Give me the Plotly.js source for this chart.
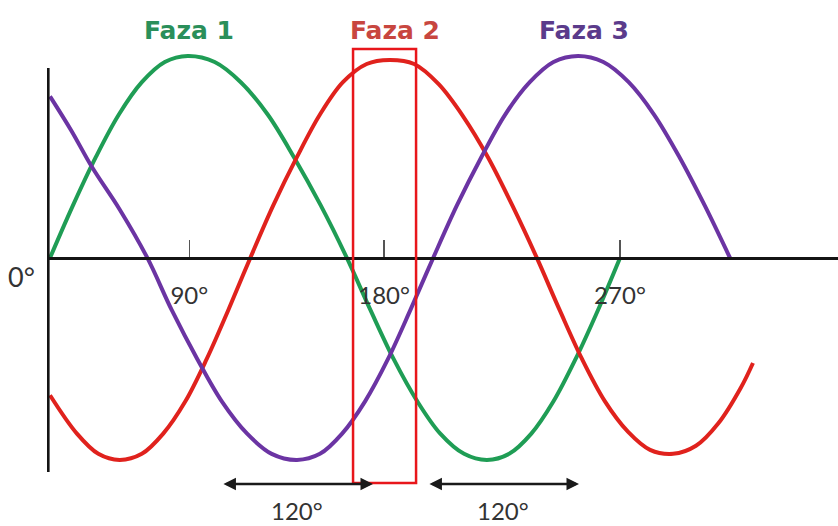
<!DOCTYPE html>
<html>
<head>
<meta charset="utf-8">
<script src="https://cdn.plot.ly/plotly-3.0.1.min.js"></script>
<style>
  html, body { margin: 0; padding: 0; background: #fff; }
  #plotFaze { width: 838px; height: 526px; }
</style>
</head>
<body>
<div id="plotFaze"></div>
<script>
// faza 1 (green)
faza1X = [0, 14.5, 29, 43.5, 58, 72.5, 87, 104, 120.5, 137.5, 154, 171, 187.5, 202.5, 217, 232, 246.5, 261.5, 276, 290, 304, 318, 332, 346, 360];
faza1Y = [0, 0.26, 0.5, 0.71, 0.87, 0.97, 1, 0.97, 0.87, 0.71, 0.5, 0.26, 0, -0.26, -0.5, -0.71, -0.87, -0.97, -1, -0.97, -0.87, -0.71, -0.5, -0.26, 0];

// faza 2 (red)
faza2X = [0, 17, 30.5, 44, 58, 71.5, 85.5, 99, 112.5, 126.5, 141, 156, 170.5, 185, 200, 214.5, 230, 245.5, 261, 276.5, 292, 307.5, 322, 336, 350.5, 365, 379, 393.5, 408, 422, 436.5, 444];
faza2Y = [-0.68, -0.87, -0.97, -1, -0.97, -0.87, -0.71, -0.5, -0.26, 0, 0.26, 0.5, 0.71, 0.87, 0.96, 0.98, 0.96, 0.86, 0.7, 0.5, 0.26, 0, -0.26, -0.5, -0.71, -0.86, -0.95, -0.97, -0.93, -0.82, -0.64, -0.52];

// faza 3 (purple)
faza3X = [0, 13.5, 26.5, 44, 61.5, 77, 93, 108.5, 124.5, 140, 156, 170.5, 184.5, 199, 213.5, 227.5, 242, 257, 272.5, 287.5, 303, 318, 333.5, 349.5, 365.5, 381.5, 397.5, 413.5, 429.5];
faza3Y = [0.8, 0.63, 0.45, 0.24, 0, -0.26, -0.5, -0.71, -0.87, -0.97, -1, -0.97, -0.87, -0.71, -0.5, -0.26, 0, 0.26, 0.5, 0.71, 0.87, 0.97, 1, 0.97, 0.87, 0.71, 0.5, 0.26, 0];

tickVals = [88, 211, 360];
tickText = ["90°", "180°", "270°"];

phaseNames = ["Faza 1", "Faza 2", "Faza 3"];
phaseLabelX = [88, 218, 337];

shiftStart = [108.6, 238.7];
shiftEnd = [204, 334.1];
shiftText = ["120°", "120°"];

lineColors = ["#1f9d55", "#e0221d", "#6b34a3"];
titleColors = ["#2a8f5a", "#c8463f", "#5b3b8b"];

traces = [
    {x: faza1X, y: faza1Y, mode: "lines", type: "scatter", line: {color: lineColors[0], width: 4, shape: "spline"}},
    {x: faza2X, y: faza2Y, mode: "lines", type: "scatter", line: {color: lineColors[1], width: 4, shape: "spline"}},
    {x: faza3X, y: faza3Y, mode: "lines", type: "scatter", line: {color: lineColors[2], width: 4, shape: "spline"}}
];

// plot area: 47..838 px wide, 40..490 px high
annotations = [];
phaseNames.forEach(function (name, i) {
    annotations.push({
        x: phaseLabelX[i], y: 1.022, xref: "x", yref: "paper", xanchor: "center", yanchor: "middle",
        text: "<b>" + name + "</b>", showarrow: false,
        font: {family: "DejaVu Sans", size: 25, color: titleColors[i]}
    });
});
annotations.push({
    x: -0.032, y: 0.475, xref: "paper", yref: "paper", xanchor: "center", yanchor: "middle",
    text: "0°", showarrow: false,
    font: {family: "Lato", size: 27, color: "#333"}
});
shiftText.forEach(function (t, i) {
    annotations.push({
        x: shiftEnd[i], y: -1.119, ax: shiftStart[i], ay: -1.119, axref: "x", ayref: "y",
        xref: "x", yref: "y", text: "", showarrow: true, arrowside: "end+start",
        arrowhead: 2, arrowsize: 1, arrowwidth: 2.5, arrowcolor: "#1a1a1a", standoff: 0, startstandoff: 0
    });
    annotations.push({
        x: (shiftStart[i] + shiftEnd[i]) / 2, y: -0.046, xref: "x", yref: "paper",
        xanchor: "center", yanchor: "middle", text: t, showarrow: false,
        font: {family: "Lato", size: 24, color: "#333"}
    });
});

layout = {
    width: 838,
    height: 526,
    margin: {l: 47, r: 0, t: 40, b: 36},
    paper_bgcolor: "#fff",
    plot_bgcolor: "#fff",
    showlegend: false,
    xaxis: {
        range: [-1.9, 497.7],
        anchor: "free",
        position: 0.5156,
        showline: true,
        linewidth: 3,
        linecolor: "#141414",
        showgrid: false,
        zeroline: false,
        tickvals: tickVals,
        ticktext: tickText,
        ticks: "inside",
        ticklen: 17,
        tickwidth: 1.5,
        tickcolor: "#555",
        ticklabelstandoff: 15,
        tickfont: {family: "Lato", size: 24, color: "#333"}
    },
    yaxis: {
        range: [-1.149, 1.079],
        visible: false,
        showgrid: false,
        zeroline: false
    },
    shapes: [
        {type: "line", xref: "x", yref: "y", x0: -1.2, x1: -1.2, y0: -1.06, y1: 0.94,
         line: {color: "#141414", width: 3}},
        {type: "rect", xref: "x", yref: "y", x0: 191.4, x1: 231.2, y0: -1.114, y1: 1.035,
         line: {color: "#e8161b", width: 2.5}}
    ],
    annotations: annotations
};

Plotly.newPlot("plotFaze", traces, layout, {displayModeBar: false, staticPlot: true});
</script>
</body>
</html>
